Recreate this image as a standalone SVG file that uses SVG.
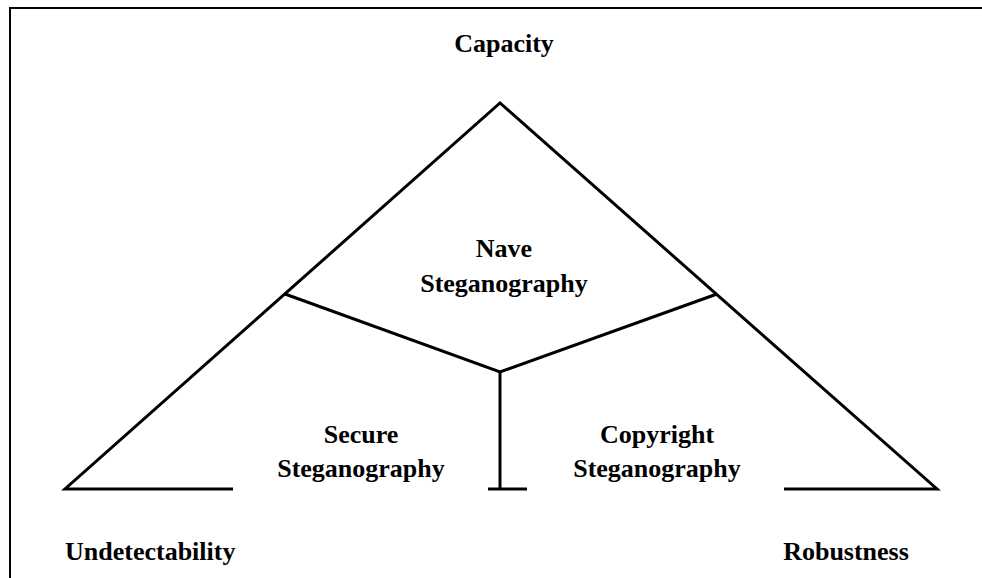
<svg xmlns="http://www.w3.org/2000/svg" width="982" height="578" viewBox="0 0 982 578">
<style>
.ln{fill:none;stroke:#000;stroke-width:3;stroke-linecap:butt;stroke-linejoin:miter}
.fr{fill:none;stroke:#000;stroke-width:2}
.t{font-family:"Liberation Serif","Times New Roman",serif;font-weight:bold;font-size:26px;fill:#000;text-anchor:middle}
</style>
<rect width="982" height="578" fill="#fff"/>
<path class="fr" d="M10,578 V8 H982"/>
<g id="connectors">
<path class="ln" d="M233,489 H65 L500,103 L937,489 H784"/>
<path class="ln" d="M285,294 L500,372 L717,294"/>
<path class="ln" d="M500,372 V489"/>
<path class="ln" d="M488,489 H527"/>
</g>
<g id="capacity"><text class="t" x="504" y="52">Capacity</text></g>
<g id="naive"><text class="t" x="504" y="257">Nave</text><text class="t" x="504" y="292">Steganography</text></g>
<g id="secure"><text class="t" x="361" y="443">Secure</text><text class="t" x="361" y="477">Steganography</text></g>
<g id="copyright"><text class="t" x="657" y="443">Copyright</text><text class="t" x="657" y="477">Steganography</text></g>
<g id="undetectability"><text class="t" x="65" y="560" style="text-anchor:start">Undetectability</text></g>
<g id="robustness"><text class="t" x="846" y="560">Robustness</text></g>
</svg>
